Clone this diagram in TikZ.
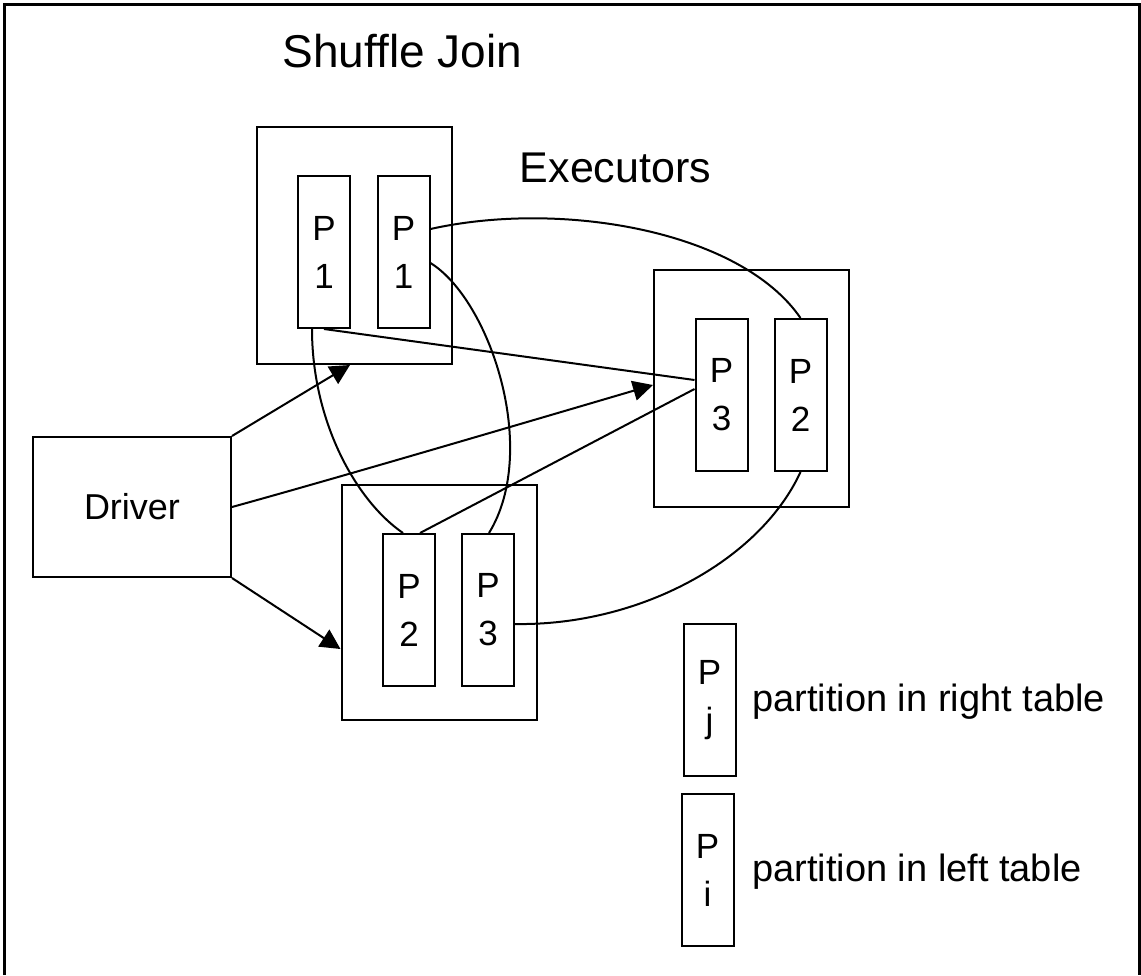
\documentclass[tikz,border=0pt]{standalone}
\usepackage{fontspec}
\setmainfont{Liberation Sans}
\usetikzlibrary{arrows.meta}
\begin{document}
\begin{tikzpicture}[x=1pt,y=-1pt,
  box/.style={draw, line width=2pt, inner sep=0pt},
  exec/.style={box, minimum width=195pt, minimum height=237pt},
  part/.style={box, minimum width=52pt, minimum height=152pt, align=center, font=\fontsize{35}{48}\selectfont},
  conn/.style={line width=2pt},
  arr/.style={conn, -{Triangle[length=20pt,width=20pt]}},
  lbl/.style={inner sep=0pt, anchor=base}
]
\useasboundingbox (0,0) rectangle (1141,975);
\draw[line width=3pt] (4,975) -- (4,4) -- (1139,4) -- (1139,975);

% titles
\node[lbl, font=\fontsize{46}{50}\selectfont] (title) at (402.5,67) {Shuffle Join};
\node[lbl, font=\fontsize{43}{48}\selectfont] (execs) at (615.5,182) {Executors};

% executors
\node[exec] (e1) at (354.5,245.5) {};
\node[exec] (e3) at (751.5,388.5) {};
\node[exec, minimum height=235pt] (e2) at (439,602.5) {};

% partitions
\node[part] (p1a) at (324,252) {P\\1};
\node[part] (p1b) at (403.5,252) {P\\1};
\node[part] (p3r) at (721.5,395) {P\\3};
\node[part] (p2r) at (800.5,395) {P\\2};
\node[part] (p2b) at (409,610) {P\\2};
\node[part] (p3b) at (488,610) {P\\3};

% driver
\node[box, minimum width=198pt, minimum height=140pt, font=\fontsize{36}{40}\selectfont] (d) at (132,507) {Driver};

% legend
\node[part] (lj) at (709.5,700) {P\\j};
\node[part] (li) at (707.5,870) {P\\i};
\node[lbl, anchor=base west, font=\fontsize{38}{40}\selectfont] (tj) at (752,711) {partition in right table};
\node[lbl, anchor=base west, font=\fontsize{38}{40}\selectfont] (ti) at (752,881) {partition in left table};

% driver arrows
\draw[arr] (d.north east) -- ([xshift=-4.5pt]e1.south);
\draw[arr] (d.east) .. controls (330,480) and (500,430) .. ([yshift=3.5pt]e3.west);
\draw[arr] (d.south east) -- ([yshift=-46.5pt]e2.west);

% shuffle connections
\draw[conn] ([xshift=-12pt]p1a.south) .. controls (312,420) and (355,500) .. ([xshift=-6pt]p2b.north);
\draw[conn] (p1a.south) -- ([yshift=15pt]p3r.west);
\draw[conn] ([yshift=23pt]p1b.east) .. controls (560,200) and (740,230) .. (p2r.north);
\draw[conn] ([yshift=-11pt]p1b.east) .. controls (490,300) and (540,450) .. ([xshift=1pt]p3b.north);
\draw[conn] ([xshift=11pt]p2b.north) -- ([yshift=6pt]p3r.west);
\draw[conn] ([yshift=-14pt]p3b.east) .. controls (640,626) and (760,560) .. (p2r.south);
\end{tikzpicture}
\end{document}
